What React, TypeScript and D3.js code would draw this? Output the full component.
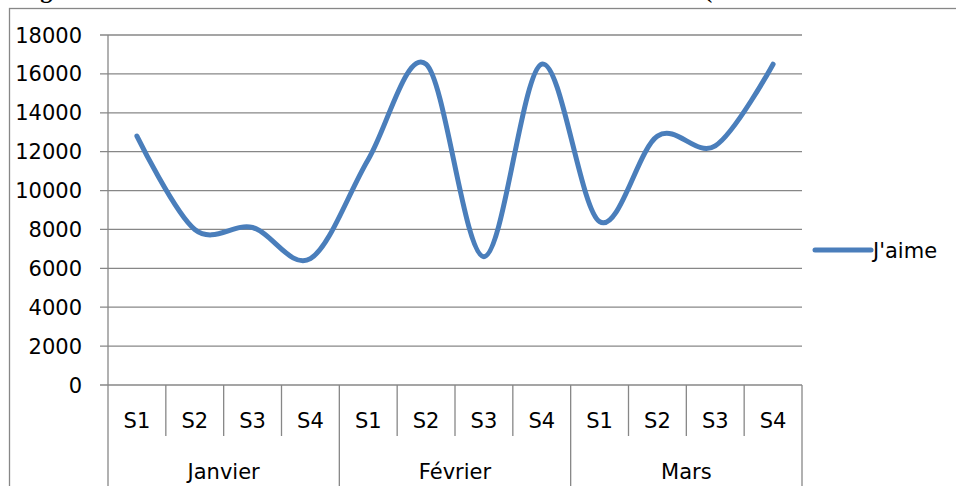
import React from "react";
import * as d3 from "d3";

// Weekly "J'aime" counts, first quarter
const months = ["Janvier", "Février", "Mars"];
const weeks = ["S1", "S2", "S3", "S4"];
const likes = [12800, 8000, 8100, 6500, 11600, 16500, 6600, 16500, 8400, 12800, 12300, 16500];
const yTicks = [0, 2000, 4000, 6000, 8000, 10000, 12000, 14000, 16000, 18000];
const seriesName = "J'aime";
const title = "Figure 10 : Evolution du nombre de J'aime sur le réseau Facebook (du mois de Janvier à Mars)";

const W = 956;
const H = 486;
const plot = { left: 108, right: 802, top: 35, bottom: 385 };
const grid = "#878787";
const blue = "#4a7ebb";
const font = "'DejaVu Sans', 'Noto Sans', sans-serif";

export default function App() {
  const cats = months.flatMap((m) => weeks.map((w) => `${m}-${w}`));
  const x = d3.scaleBand<string>().domain(cats).range([plot.left, plot.right]).padding(0);
  const y = d3.scaleLinear().domain([0, 18000]).range([plot.bottom, plot.top]);
  const bw = x.bandwidth();

  const line = d3
    .line<number>()
    .x((_, i) => (x(cats[i]) as number) + bw / 2)
    .y((d) => y(d))
    .curve(d3.curveCardinal.tension(0));

  const monthEdges = months.map((m) => x(`${m}-${weeks[0]}`) as number).concat([plot.right]);

  return (
    <svg
      width={W}
      height={H}
      style={{ position: "absolute", left: 0, top: 0, background: "#fff" }}
      fontFamily={font}
    >
      {/* caption, mostly above the visible area */}
      <text x={19} y={-2} fontFamily="'Liberation Serif', 'DejaVu Serif', serif" fontWeight="bold" fontSize={24} fill="#000">
        {title}
      </text>

      {/* outer chart frame */}
      <rect x={9.5} y={8.5} width={W + 20} height={H + 20} fill="none" stroke={grid} strokeWidth={1.3} />

      {/* horizontal gridlines + tick marks */}
      {yTicks.map((t) => (
        <line key={t} x1={plot.left - 8} x2={plot.right} y1={y(t)} y2={y(t)} stroke={grid} strokeWidth={1.3} />
      ))}
      {/* y labels */}
      {yTicks.map((t) => (
        <text key={"l" + t} x={82} y={y(t)} dy="0.36em" textAnchor="end" fontSize={21} fill="#000">
          {t}
        </text>
      ))}

      {/* vertical axis */}
      <line x1={plot.left} x2={plot.left} y1={plot.top} y2={H + 10} stroke={grid} strokeWidth={1.3} />

      {/* week separators */}
      {cats.map((c, i) =>
        i % weeks.length === 0 ? null : (
          <line
            key={"s" + c}
            x1={x(c) as number}
            x2={x(c) as number}
            y1={plot.bottom}
            y2={436}
            stroke={grid}
            strokeWidth={1.3}
          />
        )
      )}
      {/* month separators */}
      {monthEdges.slice(1).map((e, i) => (
        <line key={"m" + i} x1={e} x2={e} y1={plot.bottom} y2={H + 10} stroke={grid} strokeWidth={1.3} />
      ))}

      {/* week labels */}
      {cats.map((c, i) => (
        <text
          key={"w" + c}
          x={(x(c) as number) + bw / 2}
          y={420}
          dy="0.36em"
          textAnchor="middle"
          fontSize={21}
          fill="#000"
        >
          {weeks[i % weeks.length]}
        </text>
      ))}
      {/* month labels */}
      {months.map((m, i) => (
        <text
          key={"mt" + m}
          x={(monthEdges[i] + monthEdges[i + 1]) / 2}
          y={471}
          dy="0.36em"
          textAnchor="middle"
          fontSize={21}
          fill="#000"
        >
          {m}
        </text>
      ))}

      {/* series */}
      <path d={line(likes) ?? ""} fill="none" stroke={blue} strokeWidth={5} strokeLinecap="round" strokeLinejoin="round" />

      {/* legend */}
      <line x1={815} x2={871} y1={250} y2={250} stroke={blue} strokeWidth={5} strokeLinecap="round" />
      <text x={873} y={250} dy="0.36em" fontSize={21} fill="#000">
        {seriesName}
      </text>
    </svg>
  );
}
